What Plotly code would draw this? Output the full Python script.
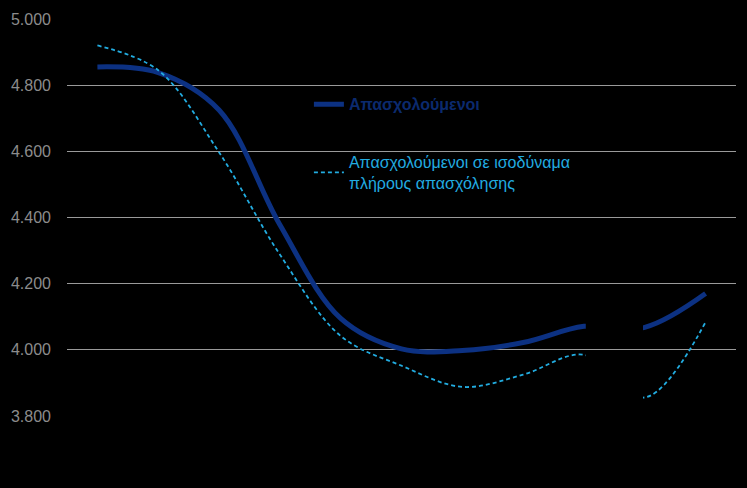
import plotly.graph_objects as go

# categories (x-axis labels not shown in the reference)
periods = [0, 1, 2, 3, 4, 5, 6, 7, 8, 9, 10]
break_after = 8  # the line is not drawn between category 8 and 9

# Employed persons (thousands)
employed = [4855, 4838, 4725, 4378, 4095, 4003, 3998, 4022, 4071, 4068, 4170]

# Employed in full-time equivalents (thousands)
fte = [4920, 4845, 4597, 4288, 4042, 3952, 3888, 3925, 3985, 3856, 4084]

ytick_vals = [3800, 4000, 4200, 4400, 4600, 4800, 5000]

name_emp = "Απασχολούμενοι"
name_fte = "Απασχολούμενοι σε ισοδύναμα<br>πλήρους απασχόλησης"

DARK = "#0C3182"
DARK_TXT = "#0B2A6E"
LIGHT = "#22ACE0"

x_lo, x_hi = periods[0] - 0.5, periods[-1] + 0.5
span = x_hi - x_lo
eps = 0.03
end_a = periods[break_after] + eps
start_b = periods[break_after + 1] - eps

fig = go.Figure()
# empty trace on the full-width subplot (carries the gridlines)
fig.add_trace(go.Scatter(x=[], y=[], xaxis="x", yaxis="y", mode="lines",
                         showlegend=False, hoverinfo="skip"))
# segment A (clipped at the break, keeps the smoothing of the full series)
fig.add_trace(go.Scatter(
    x=periods, y=employed, xaxis="x2", yaxis="y", mode="lines",
    line=dict(color=DARK, width=5, shape="spline", smoothing=1.0),
    name=f"<span style='color:{DARK_TXT}'><b>{name_emp}</b></span>", legendgroup="emp", showlegend=True,
    hoverinfo="skip"))
fig.add_trace(go.Scatter(
    x=periods, y=fte, xaxis="x2", yaxis="y", mode="lines",
    line=dict(color=LIGHT, width=1.8, dash="4px,3px", shape="spline", smoothing=1.0),
    name=f"<span style='color:{LIGHT}'>{name_fte}</span>", legendgroup="fte", showlegend=True,
    hoverinfo="skip"))
# segment B
fig.add_trace(go.Scatter(
    x=periods, y=employed, xaxis="x3", yaxis="y", mode="lines",
    line=dict(color=DARK, width=5, shape="spline", smoothing=1.0),
    legendgroup="emp", showlegend=False, hoverinfo="skip"))
fig.add_trace(go.Scatter(
    x=periods, y=fte, xaxis="x3", yaxis="y", mode="lines",
    line=dict(color=LIGHT, width=1.8, dash="4px,3px", shape="spline", smoothing=1.0),
    legendgroup="fte", showlegend=False, hoverinfo="skip"))

hidden_x = dict(showticklabels=False, showgrid=False, zeroline=False, showline=False, ticks="",
                anchor="y", visible=False)

fig.update_layout(
    width=747, height=488,
    paper_bgcolor="black", plot_bgcolor="rgba(0,0,0,0)",
    margin=dict(l=61, r=11, t=14, b=72),
    font=dict(family="Liberation Sans, Arial, sans-serif", size=16, color="#8c8c8c"),
    separators=",.",
    showlegend=True,
    hovermode=False,
    legend=dict(x=0.3616, y=0.828, xanchor="left", yanchor="top", bgcolor="rgba(0,0,0,0)",
                font=dict(size=16), tracegroupgap=34, itemwidth=30, traceorder="grouped"),
    xaxis=dict(domain=[0, 1], range=[x_lo, x_hi], showticklabels=False, showgrid=False,
               zeroline=False, showline=False, ticks="", anchor="y"),
    xaxis2=dict(domain=[0, (end_a - x_lo) / span], range=[x_lo, end_a], **hidden_x),
    xaxis3=dict(domain=[(start_b - x_lo) / span, 1], range=[start_b, x_hi], **hidden_x),
    yaxis=dict(range=[3800, 5000], tickvals=ytick_vals, tickformat=",.0f", showgrid=True,
               gridcolor="#9a9a9a", gridwidth=1, zeroline=False, showline=False,
               tickfont=dict(size=16, color="#8c8c8c"), ticks="", ticklabelstandoff=15),
)

fig.write_html("out.html", config={"displayModeBar": False},
               post_script="document.body.style.margin='0';document.body.style.background='black';")
